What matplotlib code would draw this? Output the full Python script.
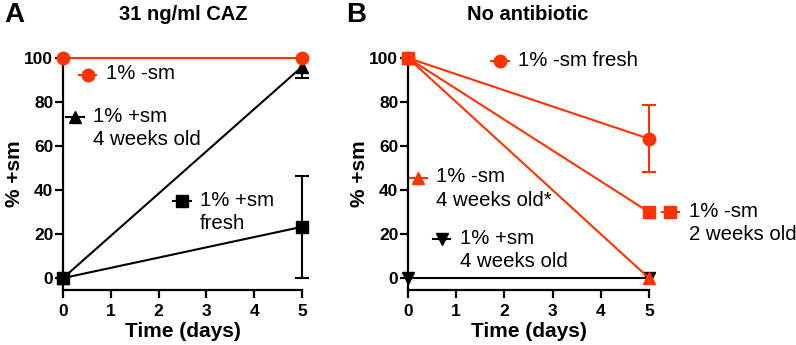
import matplotlib.pyplot as plt

plt.rcParams['font.family'] = ['Liberation Sans', 'DejaVu Sans']

RED = '#FF3300'

days = [0, 5]

# panel A: 31 ng/ml CAZ
a_minus = [100, 100]
a_plus_old = [0, 96]
a_plus_old_err = [[0, 5], [0, 4]]
a_plus_fresh = [0, 23.3]
a_plus_fresh_err = [[0, 23.3], [0, 23.2]]

# panel B: no antibiotic
b_minus_fresh = [100, 63.3]
b_minus_fresh_err = [0, 15.2]
b_minus_2wk = [100, 30]
b_minus_4wk = [100, 0]
b_plus_4wk = [0, 0]

fig = plt.figure(figsize=(7.96, 3.45), dpi=100)
axA = fig.add_axes([63/796, 55/345, 239/796, 232/345])
axB = fig.add_axes([408/796, 55/345, 241/796, 232/345])

lw = 1.5
ms = 9


def style(ax):
    ax.set_xlim(0, 5)
    ax.set_ylim(-5.4, 100)
    for s in ['top', 'right']:
        ax.spines[s].set_visible(False)
    for s in ['left', 'bottom']:
        ax.spines[s].set_linewidth(1.6)
    ax.set_xticks(range(6))
    ax.set_yticks(range(0, 101, 20))
    ax.tick_params(width=1.6, length=6, labelsize=12.5)
    ax.tick_params(axis='y', pad=1)
    ax.tick_params(axis='x', pad=4)
    for t in ax.get_xticklabels() + ax.get_yticklabels():
        t.set_fontweight('bold')
    ax.set_xlabel('Time (days)', fontsize=15, fontweight='bold', labelpad=2)
    ax.set_ylabel('% +sm', fontsize=15, fontweight='bold', labelpad=0)


def key(ax, x, y, marker, color, label, dx=0.18):
    ax.plot([x - dx, x + dx], [y, y], color=color, lw=lw, marker=None, clip_on=False)
    ax.plot([x], [y], color=color, marker=marker, ms=ms, clip_on=False)
    ax.text(x + dx + 0.2, y + 4.8, label, fontsize=14.7, va='top', ha='left',
            linespacing=1.3)


# ---- A ----
axA.plot(days, a_minus, color=RED, lw=lw, marker='o', ms=ms, clip_on=False, zorder=5)
axA.errorbar(days, a_plus_old, yerr=a_plus_old_err, color='black', lw=lw, marker='^',
             ms=ms, capsize=5, capthick=lw, clip_on=False, zorder=4)
axA.errorbar(days, a_plus_fresh, yerr=a_plus_fresh_err, color='black', lw=lw, marker='s',
             ms=ms, capsize=5, capthick=lw, clip_on=False, zorder=4)
style(axA)
key(axA, 0.52, 92.5, 'o', RED, '1% -sm')
key(axA, 0.25, 73, '^', 'black', '1% +sm\n4 weeks old')
key(axA, 2.49, 35, 's', 'black', '1% +sm\nfresh')

# ---- B ----
axB.plot(days, b_plus_4wk, color='black', lw=lw, marker='v', ms=ms, clip_on=False, zorder=3)
axB.errorbar(days, b_minus_fresh, yerr=b_minus_fresh_err, color=RED, lw=lw, marker='o',
             ms=ms, capsize=5, capthick=lw, clip_on=False, zorder=4)
axB.plot(days, b_minus_4wk, color=RED, lw=lw, marker='^', ms=ms, clip_on=False, zorder=4)
axB.plot(days, b_minus_2wk, color=RED, lw=lw, marker='s', ms=ms, clip_on=False, zorder=5)
style(axB)
key(axB, 1.91, 98.5, 'o', RED, '1% -sm fresh')
key(axB, 0.21, 45.5, '^', RED, '1% -sm\n4 weeks old*')
key(axB, 0.70, 17.7, 'v', 'black', '1% +sm\n4 weeks old')
key(axB, 5.44, 30, 's', RED, '1% -sm\n2 weeks old')

fig.text(183/796, 1 - 14/345, '31 ng/ml CAZ', fontsize=14.5, fontweight='bold',
         ha='center', va='center')
fig.text(528/796, 1 - 14/345, 'No antibiotic', fontsize=14.5, fontweight='bold',
         ha='center', va='center')
fig.text(4/796, 1 - 15/345, 'A', fontsize=20, fontweight='bold', ha='left', va='center')
fig.text(346/796, 1 - 15/345, 'B', fontsize=20, fontweight='bold', ha='left', va='center')

fig.savefig('out.png', dpi=100)
